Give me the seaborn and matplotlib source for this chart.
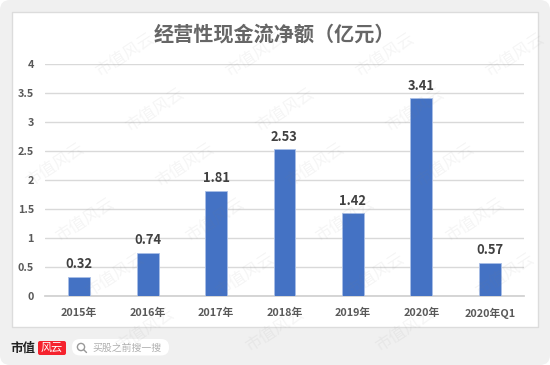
import matplotlib
matplotlib.use("Agg")
import pandas as pd
import seaborn as sns
from matplotlib import pyplot as plt
from matplotlib.patches import FancyBboxPatch, Rectangle

years = ["2015年", "2016年", "2017年", "2018年", "2019年", "2020年", "2020年Q1"]
cash_flow = [0.32, 0.74, 1.81, 2.53, 1.42, 3.41, 0.57]
y_ticks = [0, 0.5, 1, 1.5, 2, 2.5, 3, 3.5, 4]
y_labels = ["0", "0.5", "1", "1.5", "2", "2.5", "3", "3.5", "4"]
title = "经营性现金流净额（亿元）"
W, H = 550, 365

sns.set_theme(style="white")
plt.rcParams["font.family"] = ["Noto Sans CJK SC", "DejaVu Sans"]

fig = plt.figure(figsize=(W / 100, H / 100), dpi=100, facecolor="white")

# page background in pixel coordinates
bg = fig.add_axes([0, 0, 1, 1], zorder=0)
bg.set_xlim(0, W)
bg.set_ylim(H, 0)
bg.axis("off")
bg.add_patch(FancyBboxPatch((0, 0), W, H, boxstyle="round,pad=0,rounding_size=10", fc="#f0f0f0", ec="none"))
bg.add_patch(Rectangle((11.5, 11.5), 526, 315, fc="white", ec="#dcdcdc", lw=1))

# chart
ax = fig.add_axes([45 / W, 1 - 295.5 / H, 479 / W, 231.5 / H], zorder=1)
ax.patch.set_alpha(0)
df = pd.DataFrame({"year": years, "value": cash_flow})
sns.barplot(data=df, x="year", y="value", ax=ax, color="#4472c4", saturation=1, width=0.32,
            edgecolor="#a9bee6", linewidth=0.6, zorder=3)
ax.set_xlim(-0.5, 6.5)
ax.set_ylim(0, 4)
ax.set_yticks(y_ticks)
ax.set_yticklabels(y_labels)
ax.set_xlabel("")
ax.set_ylabel("")
ax.yaxis.grid(True, color="#d9d9d9", lw=1)
ax.set_axisbelow(True)
sns.despine(ax=ax, left=True, top=True, right=True)
ax.spines["bottom"].set_color("#d0d0d0")
ax.tick_params(axis="both", length=0, labelcolor="#595959", labelsize=7.8)
ax.tick_params(axis="x", pad=8.5)
ax.tick_params(axis="y", pad=8)
for lab in ax.get_xticklabels() + ax.get_yticklabels():
    lab.set_fontweight("bold")
ax.bar_label(ax.containers[0], fmt="%.2f", padding=4, fontsize=9.3, fontweight="bold", color="#404040")

fig.text(274 / W, 1 - 34 / H, title, ha="center", va="center", fontsize=14.5, color="#666666", fontweight="bold")

# footer logo and search box
top = fig.add_axes([0, 0, 1, 1], zorder=2)
top.set_xlim(0, W)
top.set_ylim(H, 0)
top.axis("off")
top.patch.set_alpha(0)
top.text(23, 348, "市值", ha="center", va="center", fontsize=9, fontweight="bold", color="#222222")
top.add_patch(FancyBboxPatch((38, 341), 28, 14, boxstyle="round,pad=0,rounding_size=2", fc="#f5222d", ec="none"))
top.text(52, 348, "风云", ha="center", va="center", fontsize=8, style="italic", color="white")
top.add_patch(FancyBboxPatch((72, 339), 97, 16.5, boxstyle="round,pad=0,rounding_size=8", fc="white", ec="none"))
top.add_patch(plt.Circle((81, 347), 3.6, fc="none", ec="#999999", lw=1))
top.plot([83.6, 86.5], [349.6, 352.5], color="#999999", lw=1)
top.text(92, 347.5, "买股之前搜一搜", ha="left", va="center", fontsize=7.1, color="#b0b0b0")

# watermark lattice, only the ones that fit inside the page
for row in range(-1, 8):
    for col in range(-2, 6):
        x = 125 + col * 130 + (row - 1) * 30
        y = 55 + (row - 1) * 55
        if 32 < x < W - 32 and 24 < y < H - 24:
            top.text(x, y, "市值风云", ha="center", va="center", rotation=33, fontsize=12,
                     color="#808080", alpha=0.08)

fig.savefig("out.png", dpi=100)
